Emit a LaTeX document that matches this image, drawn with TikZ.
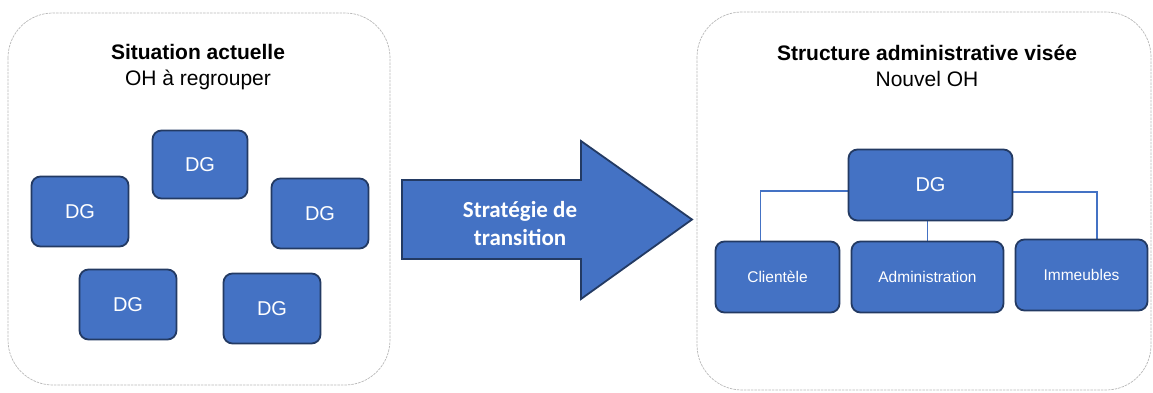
\documentclass[tikz,border=0pt]{standalone}
\usepackage{fontspec}
\setmainfont{Liberation Sans}
\newfontfamily\arrowfont{Carlito}
\usetikzlibrary{backgrounds}
\definecolor{boxblue}{HTML}{4472C4}
\definecolor{boxedge}{HTML}{233A63}
\definecolor{panelgray}{HTML}{B8B8B8}
\begin{document}
\begin{tikzpicture}[x=1pt,y=-1pt,
  panel/.style={draw=panelgray, line width=0.7pt, dash pattern=on 2.5pt off 1pt, rounded corners=45pt},
  dgbox/.style={draw=boxedge, fill=boxblue, line width=1.8pt, rounded corners=9pt, text=white,
    font=\fontsize{20}{24}\selectfont, inner sep=0pt},
  orgbox/.style={dgbox, font=\fontsize{15.5}{18}\selectfont},
  link/.style={draw=boxblue, line width=1.4pt},
  title/.style={align=center, font=\fontsize{21}{26}\selectfont},
  bigarrow/.style={draw=boxedge, fill=boxblue, line width=1.8pt, line join=miter},
  arrowtext/.style={text=white, align=center, font=\arrowfont\bfseries\fontsize{23}{28}\selectfont}]
\useasboundingbox (0,0) rectangle (1153,393);

% panels
\draw[panel] (8,13) rectangle (390,385);
\draw[panel] (697,12) rectangle (1151,390);

% titles
\node[title] (t1) at (198,67) {\textbf{Situation actuelle}\\OH à regrouper};
\node[title] (t2) at (927,66) {\textbf{Structure administrative visée}\\Nouvel OH};

% left DG boxes
\node[dgbox, minimum width=95pt, minimum height=68pt] (d1) at (200,164.5) {DG};
\node[dgbox, minimum width=97pt, minimum height=70pt] (d2) at (80,211.5) {DG};
\node[dgbox, minimum width=97pt, minimum height=70pt] (d3) at (320,213.5) {DG};
\node[dgbox, minimum width=97pt, minimum height=70pt] (d4) at (128,304.5) {DG};
\node[dgbox, minimum width=97pt, minimum height=70pt] (d5) at (272,308.5) {DG};

% arrow
\draw[bigarrow] (402,180) -- (581,180) -- (581,141) -- (692,219.5) -- (581,299) -- (581,259) -- (402,259) -- cycle;
\node[arrowtext] (strat) at (520,224) {Stratégie de\\transition};

% org chart
\node[dgbox, minimum width=164pt, minimum height=71pt] (dgc) at (930.5,185) {DG};
\node[orgbox, minimum width=124pt, minimum height=71pt] (cli) at (777.5,277) {Clientèle};
\node[orgbox, minimum width=152pt, minimum height=71pt] (adm) at (927.5,277) {Administration};
\node[orgbox, minimum width=132pt, minimum height=71pt] (imm) at (1081.5,275) {Immeubles};

\begin{scope}[on background layer]
\draw[link] ([yshift=-6pt]dgc.west) -| ([xshift=-17pt]cli.north);
\draw[link] ([yshift=-7pt]dgc.east) -| ([xshift=15.5pt]imm.north);
\draw[link] (dgc.south -| adm.north) -- (adm.north);
\end{scope}
\end{tikzpicture}
\end{document}
